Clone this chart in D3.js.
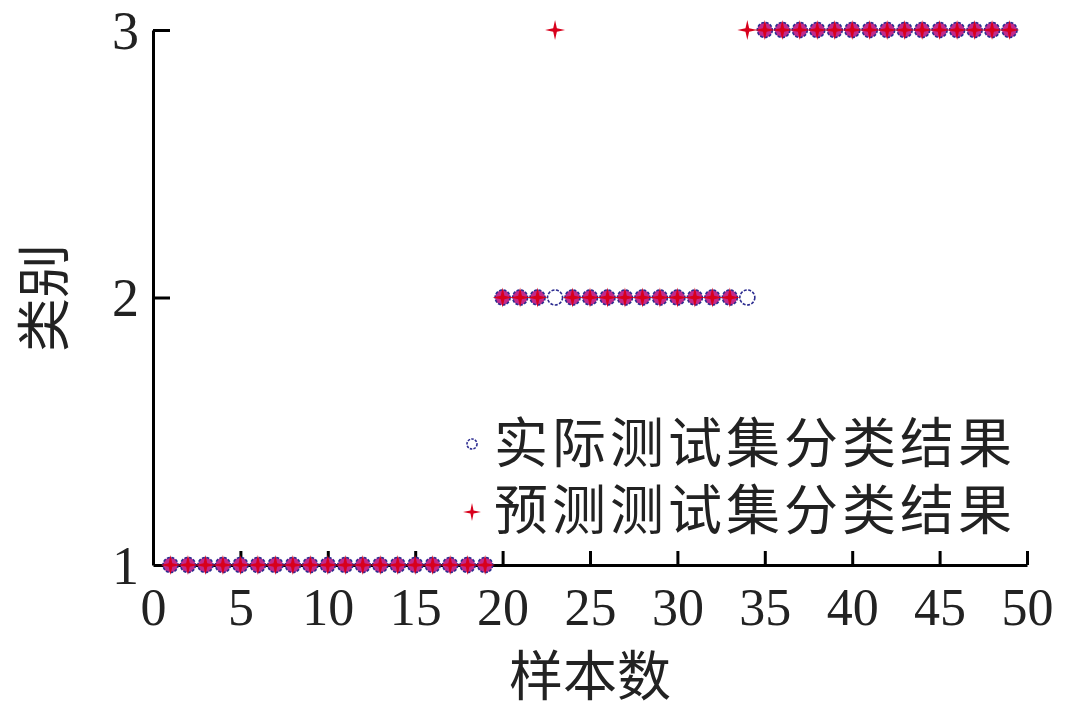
<!DOCTYPE html>
<html>
<head>
<meta charset="utf-8">
<script src="https://cdn.jsdelivr.net/npm/d3@7"></script>
<style>
	body { margin: 0; background: #fff; }
	svg { display: block; }
</style>
</head>
<body>
<div id="chart"></div>
<script>
// sample index 1..49
const samples = d3.range(1, 50)
// actual class of each test sample
const actual = [
	1, 1, 1, 1, 1, 1, 1, 1, 1, 1, 1, 1, 1, 1, 1, 1, 1, 1, 1,
	2, 2, 2, 2, 2, 2, 2, 2, 2, 2, 2, 2, 2, 2, 2,
	3, 3, 3, 3, 3, 3, 3, 3, 3, 3, 3, 3, 3, 3, 3,
]
// predicted class (samples 23 and 34 misclassified)
const predicted = [
	1, 1, 1, 1, 1, 1, 1, 1, 1, 1, 1, 1, 1, 1, 1, 1, 1, 1, 1,
	2, 2, 2, 3, 2, 2, 2, 2, 2, 2, 2, 2, 2, 2, 3,
	3, 3, 3, 3, 3, 3, 3, 3, 3, 3, 3, 3, 3, 3, 3,
]
const xTicks = [0, 5, 10, 15, 20, 25, 30, 35, 40, 45, 50]
const yTicks = [1, 2, 3]
const legendLabels = ["实际测试集分类结果", "预测测试集分类结果"]
const xTitle = "样本数"
const yTitle = "类别"

const width = 1066
const height = 712
const cjk = "'Noto Sans CJK SC', sans-serif"
const serif = "'Liberation Serif', 'DejaVu Serif', serif"
const circleColor = "#2c2c90"
const starColor = "#d8001c"

const svg = d3.select("#chart")
	.append("svg")
	.attr("width", width)
	.attr("height", height)

const x = d3.scaleLinear().domain([0, 50]).range([153, 1027])
const y = d3.scaleLinear().domain([1, 3]).range([565, 30])

// 4-point star shape
function starPath(outer, inner) {
	const pts = d3.range(8).map((i) => [i * Math.PI / 4, i % 2 === 0 ? outer : inner])
	return d3.lineRadial().curve(d3.curveLinearClosed)(pts)
}

// x axis
const xAxis = svg.append("g")
	.attr("transform", `translate(0,${y(1)})`)
	.call(d3.axisBottom(x).tickValues(xTicks).tickSizeInner(-14).tickSizeOuter(0).tickFormat(d3.format("d")))
xAxis.select(".domain").attr("stroke", "#000").attr("stroke-width", 3)
xAxis.selectAll(".tick line").attr("stroke", "#000").attr("stroke-width", 3)
xAxis.selectAll(".tick").filter((d) => d === 0).select("line").remove()
xAxis.selectAll(".tick text")
	.attr("y", 60)
	.attr("dy", null)
	.attr("fill", "#222")
	.style("font-family", serif)
	.style("font-size", "52px")

// y axis
const yAxis = svg.append("g")
	.attr("transform", `translate(${x(0)},0)`)
	.call(d3.axisLeft(y).tickValues(yTicks).tickSizeInner(-17).tickSizeOuter(0).tickFormat(d3.format("d")))
yAxis.select(".domain").attr("stroke", "#000").attr("stroke-width", 3)
yAxis.selectAll(".tick line").attr("stroke", "#000").attr("stroke-width", 3)
yAxis.selectAll(".tick").filter((d) => d === 1).select("line").remove()
yAxis.selectAll(".tick text")
	.attr("x", -14)
	.attr("dy", "0.34em")
	.attr("fill", "#222")
	.style("font-family", serif)
	.style("font-size", "54px")

// actual classes: open circles
svg.append("g")
	.selectAll("circle")
	.data(samples)
	.enter()
	.append("circle")
	.attr("cx", (d) => x(d))
	.attr("cy", (d, i) => y(actual[i]))
	.attr("r", 7.5)
	.attr("fill", (d, i) => actual[i] === predicted[i] ? "#c02a8c" : "#fff")
	.attr("stroke", circleColor)
	.attr("stroke-width", 1.6)
	.attr("stroke-dasharray", "3 1.5")

// predicted classes: red stars
svg.append("g")
	.selectAll("path")
	.data(samples)
	.enter()
	.append("path")
	.attr("d", starPath(10, 2.6))
	.attr("transform", (d, i) => `translate(${x(d)},${y(predicted[i])})`)
	.attr("fill", starColor)

// legend
const legend = svg.append("g")
legend.append("circle")
	.attr("cx", 472)
	.attr("cy", 444)
	.attr("r", 5)
	.attr("fill", "#fff")
	.attr("stroke", circleColor)
	.attr("stroke-width", 1.6)
	.attr("stroke-dasharray", "2.5 1.2")
legend.append("path")
	.attr("d", starPath(9, 2.2))
	.attr("transform", "translate(472,512)")
	.attr("fill", starColor)
legend.selectAll("text")
	.data(legendLabels)
	.enter()
	.append("text")
	.attr("x", 494)
	.attr("y", (d, i) => 463 + i * 67)
	.attr("fill", "#222")
	.style("font-family", cjk)
	.style("font-size", "54px")
	.style("letter-spacing", "4px")
	.text((d) => d)

// axis titles
svg.append("text")
	.attr("x", 590)
	.attr("y", 696)
	.attr("text-anchor", "middle")
	.attr("fill", "#222")
	.style("font-family", cjk)
	.style("font-size", "54px")
	.text(xTitle)

svg.append("text")
	.attr("transform", "translate(64,298) rotate(-90)")
	.attr("text-anchor", "middle")
	.attr("fill", "#222")
	.style("font-family", cjk)
	.style("font-size", "54px")
	.text(yTitle)
</script>
</body>
</html>
